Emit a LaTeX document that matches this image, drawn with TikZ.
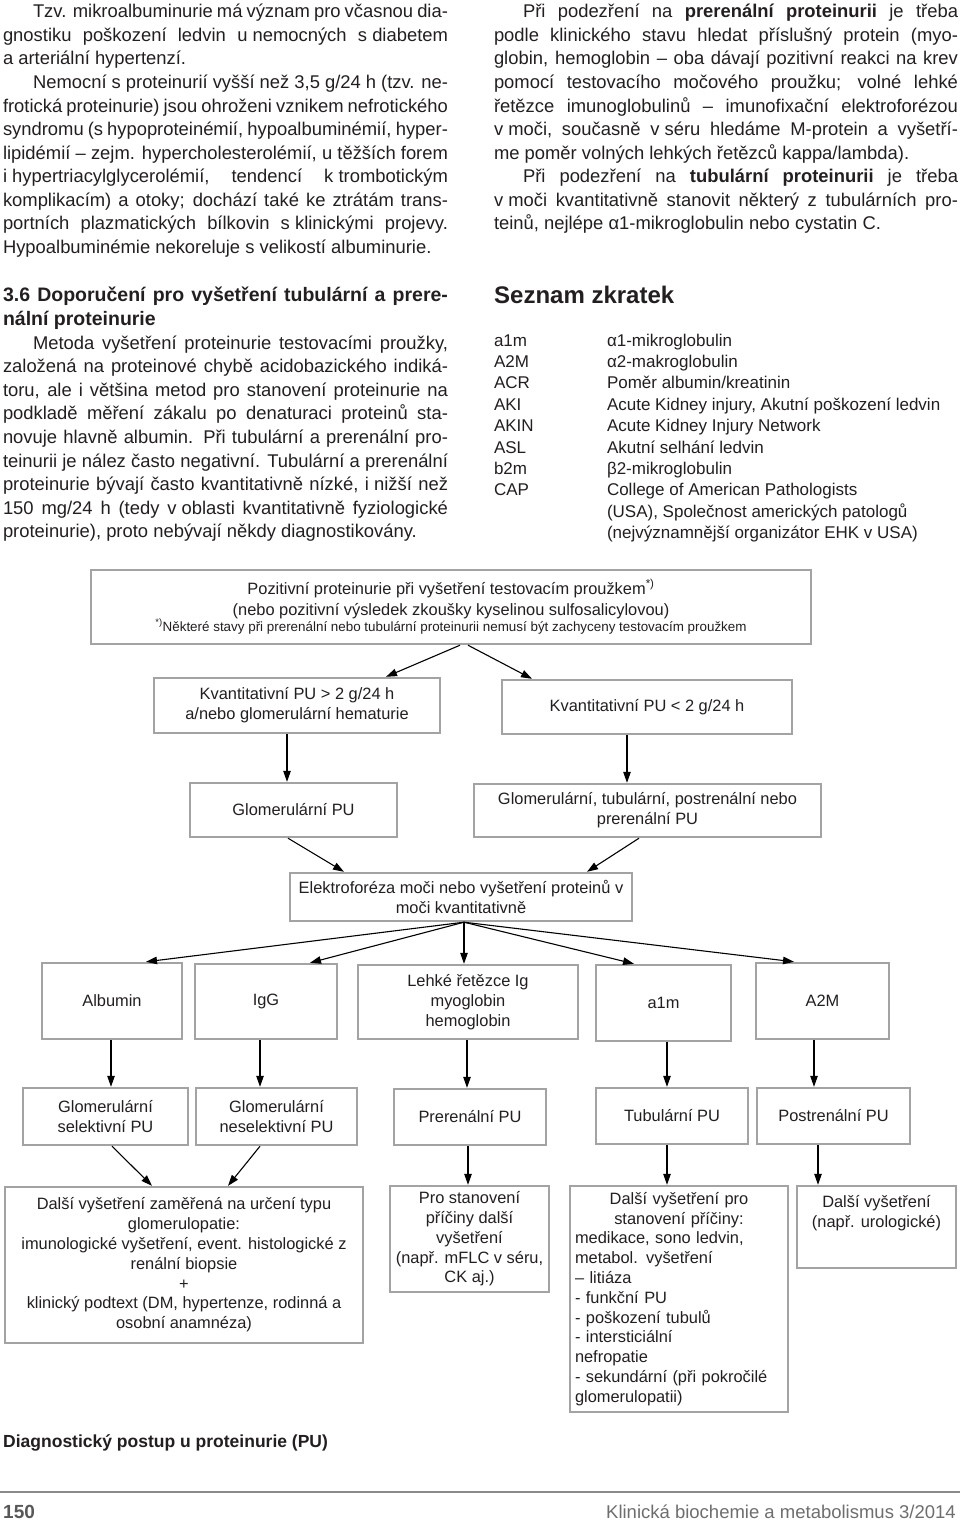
\documentclass[tikz,border=0pt]{standalone}
\usepackage{fontspec}
\setmainfont{Liberation Sans}
\usetikzlibrary{arrows.meta,calc}
\definecolor{boxgray}{HTML}{A3A3A3}
\definecolor{txtc}{HTML}{231F20}
\definecolor{footgray}{HTML}{6E6E6E}
\definecolor{rulegray}{HTML}{8A8A8A}
\newcommand\mybody{\fontsize{18.4pt}{23.5pt}\selectfont}
\newcommand\myfc{\fontsize{16.4pt}{19.8pt}\selectfont}
\newcommand\myfcs{\fontsize{13.4pt}{16pt}\selectfont}
\newcommand\myab{\fontsize{17pt}{21pt}\selectfont}
\newcommand\Jline[5]{\node[txt] (#1) at (#2,#3) {\makebox[#4pt][s]{#5}};}
\newcommand\Lline[4]{\node[txt] (#1) at (#2,#3) {#4};}
\begin{document}
\begin{tikzpicture}[x=1pt,y=-1pt,
  txt/.style={anchor=base west, inner sep=0pt, outer sep=0pt, text=txtc, font=\mybody},
  abt/.style={anchor=base west, inner sep=0pt, outer sep=0pt, text=txtc, font=\myab},
  flowbox/.style={draw=boxgray, line width=2.4pt, fill=white, inner sep=2pt, align=center, font=\myfc, text=txtc},
  ftxt/.style={anchor=base, inner sep=0pt, outer sep=0pt, text=txtc, font=\myfc},
  arr/.style={line width=1.1pt, draw=black, -{Triangle[length=11pt,width=7.5pt]}},
]
\fill[white] (0,0) rectangle (960,1520);
\useasboundingbox (0,0) rectangle (960,1520);

% ---------- left column, top
\Jline{lt1}{33}{18}{415}{Tzv. mikroalbuminurie má význam pro včasnou dia-}
\Jline{lt2}{3}{41.5}{445}{gnostiku poškození ledvin \mbox{u nemocných} \mbox{s diabetem}}
\Lline{lt3}{3}{65}{a arteriální hypertenzí.}
\Jline{lt4}{33}{88.5}{415}{Nemocní s proteinurií vyšší než 3,5 g/24 h (tzv. ne-}
\Jline{lt5}{3}{112}{445}{frotická proteinurie) jsou ohroženi vznikem nefrotického}
\Jline{lt6}{3}{135.5}{445}{syndromu (s hypoproteinémií, hypoalbuminémií, hyper-}
\Jline{lt7}{3}{159}{445}{lipidémií – zejm. hypercholesterolémií, u těžších forem}
\Jline{lt8}{3}{182.5}{445}{\mbox{i hypertriacylglycerolémií,} tendencí \mbox{k trombotickým}}
\Jline{lt9}{3}{206}{445}{komplikacím) a otoky; dochází také ke ztrátám trans-}
\Jline{lt10}{3}{229.5}{445}{portních plazmatických bílkovin \mbox{s klinickými} projevy.}
\Lline{lt11}{3}{253}{Hypoalbuminémie nekoreluje s velikostí albuminurie.}

% ---------- right column, top
\Jline{rt1}{523}{18}{435}{Při podezření na \textbf{prerenální proteinurii} je třeba}
\Jline{rt2}{494}{41.5}{464}{podle klinického stavu hledat příslušný protein (myo-}
\Jline{rt3}{494}{65}{464}{globin, hemoglobin – oba dávají pozitivní reakci na krev}
\Jline{rt4}{494}{88.5}{464}{pomocí testovacího močového proužku; volné lehké}
\Jline{rt5}{494}{112}{464}{řetězce imunoglobulinů – imunofixační elektroforézou}
\Jline{rt6}{494}{135.5}{464}{\mbox{v moči,} současně \mbox{v séru} hledáme M-protein a vyšetří-}
\Lline{rt7}{494}{159}{me poměr volných lehkých řetězců kappa/lambda).}
\Jline{rt8}{523}{182.5}{435}{Při podezření na \textbf{tubulární proteinurii} je třeba}
\Jline{rt9}{494}{206}{464}{\mbox{v moči} kvantitativně stanovit některý z tubulárních pro-}
\Lline{rt10}{494}{229.5}{teinů, nejlépe α1-mikroglobulin nebo cystatin C.}

% ---------- left column, section 3.6
\Jline{h1}{3}{301}{445}{\fontsize{19.5pt}{23.5pt}\selectfont\bfseries 3.6 Doporučení pro vyšetření tubulární a prere-}
\Lline{h2}{3}{325}{\fontsize{19.5pt}{23.5pt}\selectfont\bfseries nální proteinurie}
\Jline{lb1}{33}{349}{415}{Metoda vyšetření proteinurie testovacími proužky,}
\Jline{lb2}{3}{372.6}{445}{založená na proteinové chybě acidobazického indiká-}
\Jline{lb3}{3}{396.2}{445}{toru, ale i většina metod pro stanovení proteinurie na}
\Jline{lb4}{3}{419.8}{445}{podkladě měření zákalu po denaturaci proteinů sta-}
\Jline{lb5}{3}{443.4}{445}{novuje hlavně albumin. Při tubulární a prerenální pro-}
\Jline{lb6}{3}{467}{445}{teinurii je nález často negativní. Tubulární a prerenální}
\Jline{lb7}{3}{490.6}{445}{proteinurie bývají často kvantitativně nízké, \mbox{i nižší} než}
\Jline{lb8}{3}{514.2}{445}{150 mg/24 h (tedy \mbox{v oblasti} kvantitativně fyziologické}
\Lline{lb9}{3}{537.8}{proteinurie), proto nebývají někdy diagnostikovány.}

% ---------- abbreviations
\node[anchor=base west, inner sep=0pt, text=txtc, font=\fontsize{24pt}{28pt}\selectfont\bfseries] (sz) at (494,303) {Seznam zkratek};
\node[abt] (a1) at (494,346) {a1m};   \node[abt] (d1) at (607,346) {α1-mikroglobulin};
\node[abt] (a2) at (494,367.4) {A2M}; \node[abt] (d2) at (607,367.4) {α2-makroglobulin};
\node[abt] (a3) at (494,388.8) {ACR}; \node[abt] (d3) at (607,388.8) {Poměr albumin/kreatinin};
\node[abt] (a4) at (494,410.2) {AKI}; \node[abt] (d4) at (607,410.2) {Acute Kidney injury, Akutní poškození ledvin};
\node[abt] (a5) at (494,431.6) {AKIN}; \node[abt] (d5) at (607,431.6) {Acute Kidney Injury Network};
\node[abt] (a6) at (494,453) {ASL}; \node[abt] (d6) at (607,453) {Akutní selhání ledvin};
\node[abt] (a7) at (494,474.4) {b2m}; \node[abt] (d7) at (607,474.4) {β2-mikroglobulin};
\node[abt] (a8) at (494,495.8) {CAP}; \node[abt] (d8) at (607,495.8) {College of American Pathologists};
\node[abt] (d9) at (607,517.2) {(USA), Společnost amerických patologů};
\node[abt] (d10) at (607,538.6) {(nejvýznamnější organizátor EHK v USA)};

% ---------- flowchart boxes
\node[flowbox, minimum width=720pt, minimum height=74pt] (B1) at (451,607) {};
\node[ftxt] (B1a) at (451,594) {Pozitivní proteinurie při vyšetření testovacím proužkem\textsuperscript{*)}};
\node[ftxt] (B1b) at (451,615) {(nebo pozitivní výsledek zkoušky kyselinou sulfosalicylovou)};
\node[ftxt, font=\myfcs] (B1c) at (451,631) {\textsuperscript{*)}Některé stavy při prerenální nebo tubulární proteinurii nemusí být zachyceny testovacím proužkem};

\node[flowbox, minimum width=286pt, minimum height=55pt] (B2L) at (297,705.5) {Kvantitativní PU > 2 g/24 h\\a/nebo glomerulární hematurie};
\node[flowbox, minimum width=290pt, minimum height=54pt] (B2R) at (647,707) {Kvantitativní PU < 2 g/24 h};

\node[flowbox, minimum width=207pt, minimum height=54pt] (B3L) at (293.5,810) {Glomerulární PU};
\node[flowbox, minimum width=347pt, minimum height=53pt] (B3R) at (647.5,810.5) {Glomerulární, tubulární, postrenální nebo\\prerenální PU};

\node[flowbox, minimum width=342pt, minimum height=48pt] (B4) at (461,897) {Elektroforéza moči nebo vyšetření proteinů v\\moči kvantitativně};

\node[flowbox, minimum width=140pt, minimum height=76pt] (L5a) at (112,1001) {Albumin};
\node[flowbox, minimum width=142pt, minimum height=75pt] (L5b) at (266,1001.5) {IgG};
\node[flowbox, minimum width=220pt, minimum height=74pt] (L5c) at (468,1002) {Lehké řetězce Ig\\myoglobin\\hemoglobin};
\node[flowbox, minimum width=135pt, minimum height=76pt] (L5d) at (663.5,1003) {a1m};
\node[flowbox, minimum width=133pt, minimum height=76pt] (L5e) at (822.5,1001) {A2M};

\node[flowbox, minimum width=165pt, minimum height=57pt] (L6a) at (105.5,1116.5) {Glomerulární\\selektivní PU};
\node[flowbox, minimum width=161pt, minimum height=57pt] (L6b) at (276.5,1116.5) {Glomerulární\\neselektivní PU};
\node[flowbox, minimum width=152pt, minimum height=56pt] (L6c) at (470,1117) {Prerenální PU};
\node[flowbox, minimum width=152pt, minimum height=56pt] (L6d) at (672,1116) {Tubulární PU};
\node[flowbox, minimum width=153pt, minimum height=56pt] (L6e) at (833.5,1116) {Postrenální PU};

\node[flowbox, minimum width=358pt, minimum height=156pt] (L7a) at (184,1265) {Další vyšetření zaměřená na určení typu\\glomerulopatie:\\imunologické vyšetření, event. histologické z\\renální biopsie\\+\\klinický podtext (DM, hypertenze, rodinná a\\osobní anamnéza)};
\node[flowbox, minimum width=159pt, minimum height=106pt] (L7b) at (469.5,1239) {Pro stanovení\\příčiny další\\vyšetření\\(např. mFLC v séru,\\CK aj.)};
\node[flowbox, minimum width=218pt, minimum height=226pt, text width=208pt, align=left] (L7c) at (679,1299) {\makebox[208pt]{Další vyšetření pro}\\\makebox[208pt]{stanovení příčiny:}\\medikace, sono ledvin,\\metabol. vyšetření\\– litiáza\\- funkční PU\\- poškození tubulů\\- intersticiální\\nefropatie\\- sekundární (při pokročilé\\glomerulopatii)};
\node[flowbox, minimum width=159pt, minimum height=82pt] (L7d) at (876.5,1227) {};
\node[ftxt] (L7d1) at (876.5,1207) {Další vyšetření};
\node[ftxt] (L7d2) at (876.5,1227) {(např. urologické)};

% ---------- connectors
\draw[arr] ([xshift=9pt]B1.south) -- ([xshift=89pt]B2L.north);
\draw[arr] ([xshift=17pt]B1.south) -- ([xshift=-115pt]B2R.north);
\coordinate (p1) at ([xshift=-10pt]B2L.south);
\coordinate (p2) at ([xshift=-20pt]B2R.south);
\draw[arr] (p1) -- (p1 |- B3L.north);
\draw[arr] (p2) -- (p2 |- B3R.north);
\draw[arr] ([xshift=-5.5pt]B3L.south) -- ([xshift=-117pt]B4.north);
\draw[arr] ([xshift=-8.5pt]B3R.south) -- ([xshift=126pt]B4.north);
\coordinate (fan) at ([xshift=3pt]B4.south);
\draw[arr] (fan) -- ([xshift=34pt]L5a.north);
\draw[arr] (fan) -- ([xshift=44pt]L5b.north);
\draw[arr] (fan) -- ([xshift=-4pt]L5c.north);
\draw[arr] (fan) -- ([xshift=-29.5pt]L5d.north);
\draw[arr] (fan) -- ([xshift=-28.5pt]L5e.north);
\coordinate (v1) at ([xshift=-1pt]L5a.south);
\coordinate (v2) at ([xshift=-6pt]L5b.south);
\coordinate (v3) at ([xshift=-1pt]L5c.south);
\coordinate (v4) at ([xshift=3.5pt]L5d.south);
\coordinate (v5) at ([xshift=-8.5pt]L5e.south);
\draw[arr] (v1) -- (v1 |- L6a.north);
\draw[arr] (v2) -- (v2 |- L6b.north);
\draw[arr] (v3) -- (v3 |- L6c.north);
\draw[arr] (v4) -- (v4 |- L6d.north);
\draw[arr] (v5) -- (v5 |- L6e.north);
\draw[arr] ([xshift=6.5pt]L6a.south) -- ([xshift=-32pt]L7a.north);
\draw[arr] ([xshift=-16.5pt]L6b.south) -- ([xshift=44pt]L7a.north);
\coordinate (w1) at ([xshift=-2pt]L6c.south);
\coordinate (w2) at ([xshift=-5pt]L6d.south);
\coordinate (w3) at ([xshift=-15.5pt]L6e.south);
\draw[arr] (w1) -- (w1 |- L7b.north);
\draw[arr] (w2) -- (w2 |- L7c.north);
\draw[arr] (w3) -- (w3 |- L7d.north);

% ---------- caption and footer
\node[anchor=base west, inner sep=0pt, text=txtc, font=\fontsize{17.5pt}{20pt}\selectfont\bfseries] (cap) at (3,1447) {Diagnostický postup u proteinurie (PU)};
\coordinate (r1) at (0,1492);
\coordinate (r2) at (960,1492);
\draw[rulegray, line width=1.6pt] (r1) -- (r2);
\node[anchor=base west, inner sep=0pt, text=footgray!80!black, font=\fontsize{19pt}{22pt}\selectfont\bfseries] (pg) at (3,1518) {150};
\node[anchor=base east, inner sep=0pt, text=footgray, font=\fontsize{18.5pt}{21pt}\selectfont] (jn) at (956,1518) {Klinická biochemie a metabolismus 3/2014};
\end{tikzpicture}
\end{document}
